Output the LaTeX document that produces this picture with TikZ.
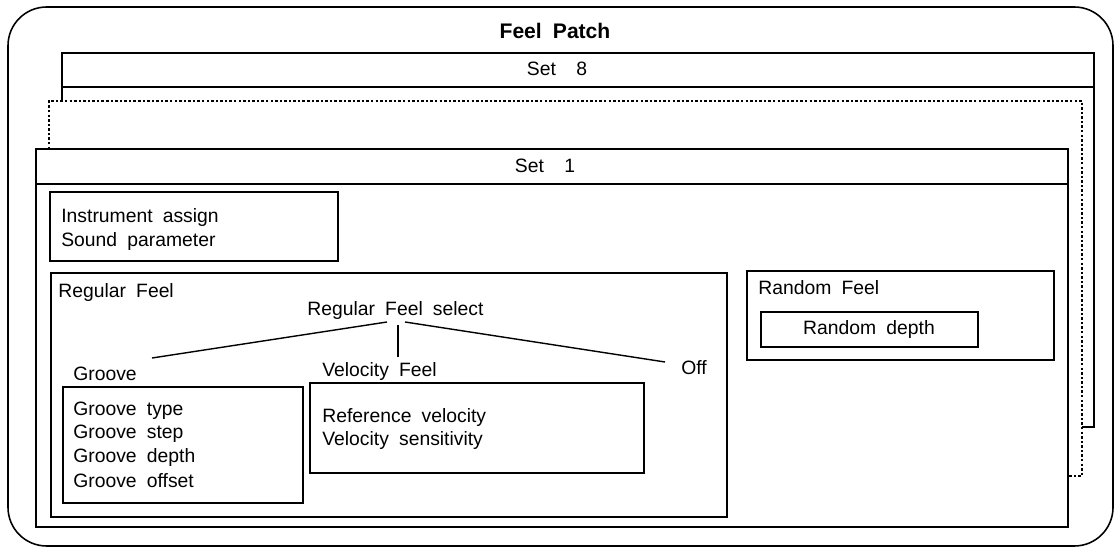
\documentclass[tikz,border=0pt]{standalone}
\usepackage{fontspec}
\setmainfont{Liberation Sans}[WordSpace=1.9]
\usepackage{tikz}
\usetikzlibrary{positioning}
\tikzset{
  frame/.style={draw, line width=0.7pt},
  dotframe/.style={draw, line width=0.7pt, dash pattern=on 1.4pt off 1.2pt},
  lbl/.style={anchor=base west, inner sep=0pt, font=\fontsize{11}{13}\selectfont},
  ctr/.style={anchor=base, inner sep=0pt, font=\fontsize{11}{13}\selectfont},
  branch/.style={line width=0.8pt}
}

\begin{document}
\begin{tikzpicture}[x=0.02cm, y=-0.02cm]
  \useasboundingbox (0,0) rectangle (1115,550);
  % outer patch frame
  \draw[line width=0.9pt, rounded corners=22] (8,7) rectangle (1113,546);
  \node[anchor=base, inner sep=0pt, font=\fontsize{12}{14}\selectfont\bfseries] (title) at (555,39) {Feel Patch};
  % set 8 (back)
  \draw[frame] (62,101) -- (62,53) -- (1094,53) -- (1094,427) -- (1082,427);
  \draw[frame] (62,87) -- (1094,87);
  \node[ctr] (set8) at (557,76) {Set\ \ 8};
  % sets in between
  \draw[dotframe] (49,149) -- (49,101) -- (1082,101) -- (1082,476) -- (1068,476);
  % set 1 (front)
  \draw[frame] (36,149) rectangle (1068,527);
  \draw[frame] (36,184) -- (1068,184);
  \node[ctr] (set1) at (545,173) {Set\ \ 1};
  % instrument / sound
  \draw[frame] (50,192) rectangle (338,261);
  \node[lbl] (inst) at (61,223) {Instrument assign};
  \node[lbl] (snd) at (61,247) {Sound parameter};
  % regular feel
  \draw[frame] (51,273) rectangle (727,517);
  \node[lbl] (reg) at (58,297) {Regular Feel};
  \node[lbl] (sel) at (307,316) {Regular Feel select};
  \node[lbl] (grv) at (73,380) {Groove};
  \node[lbl] (vel) at (322,377) {Velocity Feel};
  \node[lbl] (off) at (681,375) {Off};
  \coordinate (selL) at (387,322);
  \coordinate (selM) at (398,325);
  \coordinate (selR) at (405,322);
  \coordinate (grvTip) at (152,358);
  \coordinate (velTip) at (398,357);
  \coordinate (offTip) at (665,362);
  \draw[branch] (selL) -- (grvTip);
  \draw[branch] (selM) -- (velTip);
  \draw[branch] (selR) -- (offTip);
  % groove box
  \draw[frame] (63,387) rectangle (303,503);
  \node[lbl] (gtype) at (73,415) {Groove type};
  \node[lbl] (gstep) at (73,438) {Groove step};
  \node[lbl] (gdepth) at (73,462) {Groove depth};
  \node[lbl] (goffs) at (73,487) {Groove offset};
  % velocity box
  \draw[frame] (310,383) rectangle (644,473);
  \node[lbl] (refvel) at (322,422) {Reference velocity};
  \node[lbl] (velsens) at (322,445) {Velocity sensitivity};
  % random feel
  \draw[frame] (747,271) rectangle (1054,360);
  \node[lbl] (rnd) at (758,295) {Random Feel};
  \draw[frame] (761,312) rectangle (978,347);
  \node[ctr] (rdepth) at (869,335) {Random depth};
\end{tikzpicture}
\end{document}
